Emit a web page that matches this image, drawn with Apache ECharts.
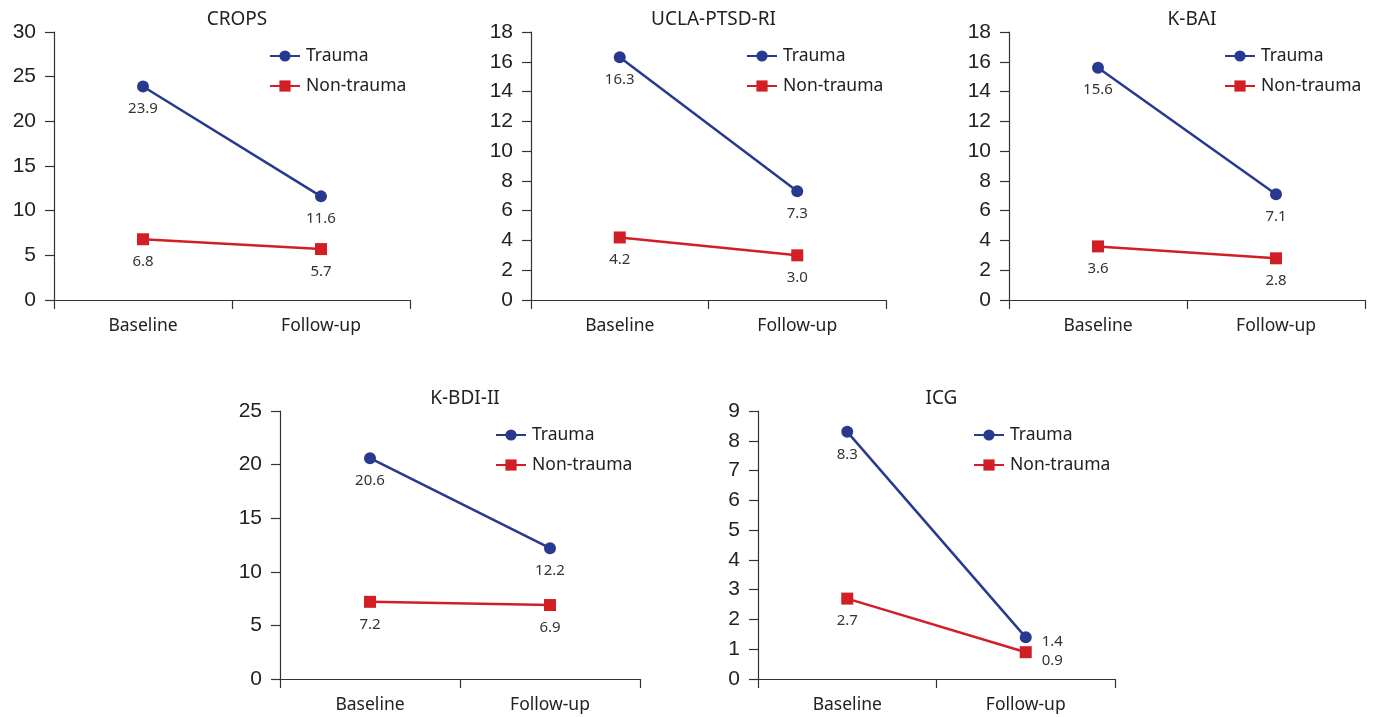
<!DOCTYPE html>
<html><head><meta charset="utf-8">
<script src="https://cdn.jsdelivr.net/npm/echarts@6/dist/echarts.min.js"></script>
<style>html,body{margin:0;padding:0;background:#fff}#c{width:1383px;height:717px}</style>
</head><body><div id="c"></div>
<script>
const categories = ['Baseline', 'Follow-up'];
const panelTitles = ['CROPS', 'UCLA-PTSD-RI', 'K-BAI', 'K-BDI-II', 'ICG'];
const traumaValues = [[23.9, 11.6], [16.3, 7.3], [15.6, 7.1], [20.6, 12.2], [8.3, 1.4]];
const nonTraumaValues = [[6.8, 5.7], [4.2, 3.0], [3.6, 2.8], [7.2, 6.9], [2.7, 0.9]];
const yMax = [30, 18, 18, 25, 9];
const yStep = [5, 2, 2, 5, 1];
const seriesNames = ['Trauma', 'Non-trauma'];

// layout (pixels)
const boxes = [
  {x0: 54, x1: 410, y0: 32, y1: 300},
  {x0: 531, x1: 886, y0: 32, y1: 300},
  {x0: 1009, x1: 1365, y0: 32, y1: 300},
  {x0: 280, x1: 640, y0: 411, y1: 679},
  {x0: 758, x1: 1115, y0: 411, y1: 679}
];
const W = 1383, H = 717;
const BLUE = '#283a8f', RED = '#d21f26';
const axisColor = '#333';

const option = {backgroundColor: '#fff', animation: false, title: [], legend: [], grid: [], xAxis: [], yAxis: [], series: []};
boxes.forEach((b, i) => {
  option.grid.push({left: b.x0, width: b.x1 - b.x0, top: b.y0, height: b.y1 - b.y0, containLabel: false});
  option.title.push({text: panelTitles[i], left: (b.x0 + b.x1) / 2, textAlign: 'center', top: b.y0 - 27,
    textStyle: {fontSize: 19, fontWeight: 'normal', color: '#222', fontFamily: 'Noto Sans'}});
  option.legend.push({orient: 'vertical', left: b.x0 + 210, top: b.y0 + 10, itemWidth: 30, itemHeight: 14, itemGap: 12,
    data: seriesNames, textStyle: {fontSize: 17.5, color: '#222', fontFamily: 'Noto Sans', padding: [0, 0, 0, 1]}});
  option.xAxis.push({type: 'category', gridIndex: i, data: categories, boundaryGap: true,
    axisLine: {lineStyle: {color: axisColor, width: 1.2}},
    axisTick: {show: true, length: 9, lineStyle: {color: axisColor, width: 1.2}, alignWithLabel: false},
    axisLabel: {fontSize: 17.5, color: '#222', fontFamily: 'Noto Sans', margin: 17}});
  option.yAxis.push({type: 'value', gridIndex: i, min: 0, max: yMax[i], interval: yStep[i],
    splitLine: {show: false},
    axisLine: {show: true, lineStyle: {color: axisColor, width: 1.2}},
    axisTick: {show: true, length: 9, lineStyle: {color: axisColor, width: 1.2}},
    axisLabel: {fontSize: 21, color: '#222', fontFamily: 'Liberation Sans', margin: 18}});
  const isICG = i === 4;
  const mk = (vals, isTrauma) => vals.map((v, j) => {
    const item = {value: v};
    if (isICG && j === 1) {
      item.label = {position: 'right', distance: 10, offset: [0, isTrauma ? 4 : 9]};
    }
    return item;
  });
  option.series.push({name: 'Trauma', type: 'line', xAxisIndex: i, yAxisIndex: i, data: mk(traumaValues[i], true),
    symbol: 'circle', symbolSize: 12, color: BLUE, lineStyle: {color: BLUE, width: 2.5},
    label: {show: true, position: 'bottom', distance: 9, fontSize: 15, color: '#333', fontFamily: 'Noto Sans',
      formatter: p => p.value.toFixed(1)}});
  option.series.push({name: 'Non-trauma', type: 'line', xAxisIndex: i, yAxisIndex: i, data: mk(nonTraumaValues[i], false),
    symbol: 'rect', symbolSize: 12, color: RED, lineStyle: {color: RED, width: 2.5},
    label: {show: true, position: 'bottom', distance: 9, fontSize: 15, color: '#333', fontFamily: 'Noto Sans',
      formatter: p => p.value.toFixed(1)}});
});
const chart = echarts.init(document.getElementById('c'), null, {renderer: 'canvas', width: W, height: H});
chart.setOption(option);
</script></body></html>
